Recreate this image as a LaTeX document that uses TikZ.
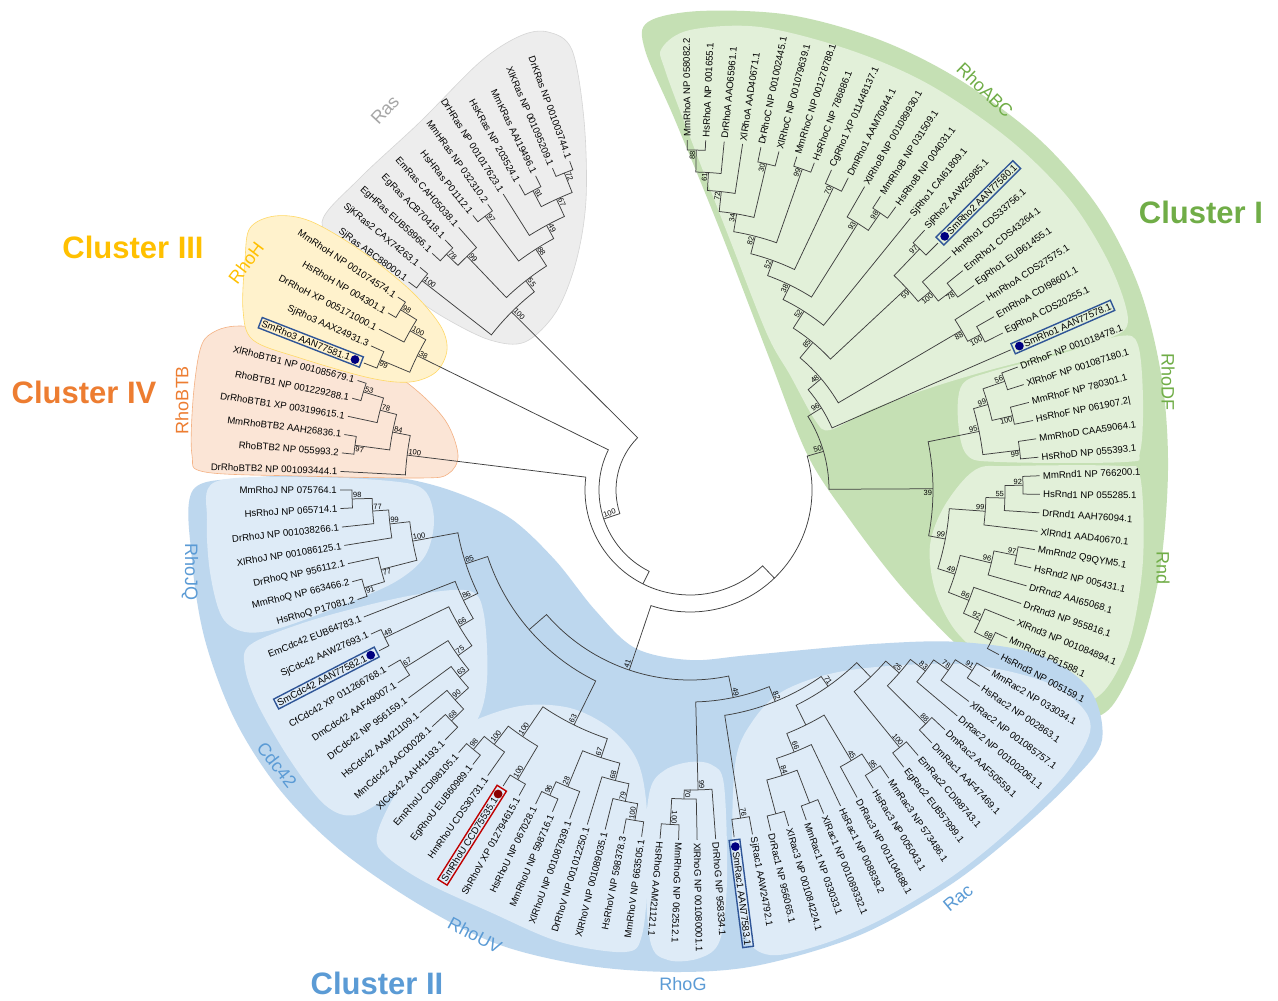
\documentclass[tikz,border=0pt]{standalone}
\usepackage{fontspec}
\setmainfont{Liberation Sans}
\usetikzlibrary{calc}
\definecolor{brc}{HTML}{3F3F3F}
\definecolor{gOut}{HTML}{C5E0B4}
\definecolor{gIn}{HTML}{E2F0D9}
\definecolor{gTxt}{HTML}{70AD47}
\definecolor{bOut}{HTML}{BDD7EE}
\definecolor{bIn}{HTML}{DEEBF7}
\definecolor{bTxt}{HTML}{5B9BD5}
\definecolor{yFill}{HTML}{FFF2CC}
\definecolor{yLine}{HTML}{FFD966}
\definecolor{yTxt}{HTML}{FFC000}
\definecolor{oFill}{HTML}{FBE5D6}
\definecolor{oLine}{HTML}{F4B183}
\definecolor{oTxt}{HTML}{ED7D31}
\definecolor{grFill}{HTML}{EDEDED}
\definecolor{grLine}{HTML}{D5D5D5}
\definecolor{grTxt}{HTML}{A6A6A6}
\definecolor{boxBlue}{HTML}{2F5597}
\definecolor{dotBlue}{HTML}{000080}
\definecolor{boxRed}{HTML}{C00000}
\definecolor{dotRed}{HTML}{8B0000}

\newcommand\Rtip{350}
\newcommand\Rlab{352}

% leaf: [style] name index text
\newcommand\TLeaf[4][]{%
  \pgfmathsetmacro\tlA{110.1+3.039*#3}%
  \expandafter\xdef\csname ang@#2\endcsname{\tlA}%
  \coordinate (#2) at ($(C)+(\tlA:\Rtip)$);
  \ifdim\tlA pt<263pt
    \pgfmathsetmacro\tlR{\tlA-180}%
    \node[lbl,rotate=\tlR,anchor=east,#1] (#2-t) at ($(C)+(\tlA:\Rlab)$) {#4};
  \else
    \node[lbl,rotate=\tlA,anchor=west,#1] (#2-t) at ($(C)+(\tlA:\Rlab)$) {#4};
  \fi
}
\newcommand\TDot[2]{%
  \fill[#2] ($(C)+(\csname ang@#1\endcsname:\Rlab+7.5)$) circle (4.4);
}
\newcommand\TBoot[3]{%
  \edef\tbM{\csname ang@#1\endcsname}%
  \ifdim\tbM pt<263pt
    \pgfmathsetmacro\tbR{\tbM-180}%
    \if#3a\def\tbAnc{south west}\else\def\tbAnc{north west}\fi
  \else
    \let\tbR\tbM
    \if#3a\def\tbAnc{south east}\else\def\tbAnc{north east}\fi
  \fi
  \node[bs,rotate=\tbR,anchor=\tbAnc] (#1-b) at (#1) {#2};
}
% internal node: name radius child1 child2 label side
\newcommand\TNode[6]{%
  \edef\tnA{\csname ang@#3\endcsname}%
  \edef\tnB{\csname ang@#4\endcsname}%
  \pgfmathsetmacro\tnM{(\tnA+\tnB)/2}%
  \expandafter\xdef\csname ang@#1\endcsname{\tnM}%
  \coordinate (#1) at ($(C)+(\tnM:#2)$);
  \draw[br] (#3) -- ($(C)+(\tnA:#2)$) arc[start angle=\tnA, end angle=\tnB, radius=#2] -- (#4);
  \TBoot{#1}{#5}{#6}%
}

\begin{document}
\begin{tikzpicture}[x=1pt,y=1pt,
  lbl/.style={font=\fontsize{9.6}{11}\selectfont, inner sep=1pt, text=black},
  bs/.style={font=\fontsize{7.5}{8}\selectfont, inner sep=0.8pt, text=black},
  br/.style={draw=brc, line width=0.75pt},
  bbox/.style={draw=boxBlue, line width=1.4pt, inner sep=2pt},
  rbox/.style={draw=boxRed, line width=1.4pt, inner sep=2pt},
  clade/.style={font=\fontsize{18}{18}\selectfont, inner sep=0pt},
  clus/.style={font=\fontsize{31}{31}\selectfont\bfseries, inner sep=0pt}]
\useasboundingbox (0,0) rectangle (1278,-1001);
\fill[white] (0,0) rectangle (1278,-1001);
\coordinate (C) at (690,-490);

% ---------------- regions ----------------
\fill[gOut] plot[smooth cycle,tension=0.55] coordinates {(648,-22) (700,-11) (790,-15) (880,-40) (960,-80) (1040,-140) (1100,-210) (1140,-290) (1162,-380) (1168,-470) (1160,-570) (1140,-650) (1112,-706) (1085,-718) (1050,-705) (990,-668) (955,-643) (900,-585) (850,-520) (808,-456) (770,-360) (720,-230) (675,-120) (645,-50)};
\fill[gIn] plot[smooth cycle,tension=0.55] coordinates {(662,-48) (690,-30) (760,-27) (850,-50) (930,-85) (1010,-140) (1070,-200) (1110,-265) (1128,-320) (1110,-338) (1060,-352) (990,-370) (930,-388) (870,-410) (830,-430) (815,-420) (790,-375) (767,-334) (730,-240) (695,-150) (665,-70)};
\fill[gIn] plot[smooth cycle,tension=0.55] coordinates {(962,-385) (990,-372) (1060,-354) (1120,-336) (1138,-345) (1143,-400) (1140,-452) (1125,-462) (1000,-462) (967,-455) (958,-420)};
\fill[gIn] plot[smooth cycle,tension=0.55] coordinates {(975,-470) (1010,-466) (1120,-466) (1140,-476) (1143,-560) (1130,-640) (1105,-690) (1075,-705) (1040,-695) (990,-662) (955,-630) (935,-590) (930,-545) (945,-505)};

\fill[bOut] plot[smooth cycle,tension=0.55] coordinates {(193,-490) (250,-478) (330,-474) (400,-478) (455,-492) (510,-518) (555,-560) (595,-610) (635,-648) (690,-660) (750,-655) (873,-644) (960,-642) (1040,-655) (1090,-690) (1102,-740) (1075,-778) (1020,-830) (950,-885) (860,-935) (760,-965) (680,-972) (590,-966) (500,-945) (420,-905) (340,-850) (280,-790) (235,-720) (205,-640) (192,-560)};
\fill[bIn] plot[smooth cycle,tension=0.55] coordinates {(215,-482) (300,-477) (390,-481) (424,-490) (434,-520) (425,-556) (395,-582) (340,-606) (280,-628) (245,-632) (222,-617) (210,-572) (207,-520)};
\fill[bIn] plot[smooth cycle,tension=0.55] coordinates {(250,-645) (300,-624) (360,-607) (420,-594) (470,-591) (484,-615) (487,-680) (476,-722) (440,-758) (395,-792) (355,-815) (325,-805) (290,-760) (258,-705) (245,-668)};
\fill[bIn] plot[smooth cycle,tension=0.55] coordinates {(377,-835) (395,-795) (425,-755) (465,-725) (520,-706) (570,-708) (610,-728) (636,-758) (646,-800) (648,-870) (642,-935) (625,-952) (560,-942) (490,-912) (425,-882) (385,-855)};
\fill[bIn] plot[smooth cycle,tension=0.55] coordinates {(650,-790) (665,-770) (690,-762) (712,-765) (724,-785) (727,-880) (720,-940) (700,-958) (668,-960) (650,-940) (645,-850)};
\fill[bIn] plot[smooth cycle,tension=0.55] coordinates {(735,-765) (752,-722) (785,-690) (850,-670) (960,-664) (1040,-680) (1080,-705) (1090,-732) (1065,-775) (1010,-830) (950,-878) (880,-920) (820,-945) (770,-955) (745,-935) (733,-870)};

\filldraw[fill=grFill,draw=grLine,line width=0.6pt] plot[smooth cycle,tension=0.55] coordinates {(322,-222) (360,-178) (420,-122) (480,-62) (520,-36) (548,-32) (572,-50) (584,-120) (586,-200) (576,-262) (556,-312) (525,-342) (490,-340) (445,-318) (400,-288) (350,-252)};
\filldraw[fill=oFill,draw=oLine,line width=0.6pt] plot[smooth cycle,tension=0.55] coordinates {(212,-333) (240,-326) (300,-334) (360,-353) (410,-385) (445,-420) (458,-455) (448,-474) (420,-478) (300,-476) (205,-472) (192,-455) (193,-400) (200,-350)};
\filldraw[fill=yFill,draw=yLine,line width=0.6pt] plot[smooth cycle,tension=0.55] coordinates {(250,-228) (275,-216) (310,-221) (360,-250) (410,-290) (440,-325) (447,-350) (436,-372) (410,-382) (370,-378) (300,-358) (253,-340) (243,-310) (245,-260)};

% ---------------- leaves ----------------
\TLeaf{DrKRas}{0}{DrKRas NP 001003744.1}
\TLeaf{XlKRas}{1}{XlKRas NP 001095209.1}
\TLeaf{MmKRas}{2}{MmKRas AAI19496.1}
\TLeaf{HsKRas}{3}{HsKRas NP 203524.1}
\TLeaf{DrHRas}{4}{DrHRas NP 001017623.1}
\TLeaf{MmHRas}{5}{MmHRas NP 032310.2}
\TLeaf{HsHRas}{6}{HsHRas P01112.1}
\TLeaf{EmRas}{7}{EmRas CAH05038.1}
\TLeaf{EgRas}{8}{EgRas ACB70418.1}
\TLeaf{EgHRas}{9}{EgHRas EUB58966.1}
\TLeaf{SjKRasB}{10}{SjKRas2 CAX74263.1}
\TLeaf{SjRas}{11}{SjRas ABC88000.1}
\TLeaf{MmRhoH}{12}{MmRhoH NP 001074574.1}
\TLeaf{HsRhoH}{13}{HsRhoH NP 004301.1}
\TLeaf{DrRhoH}{14}{DrRhoH XP 005171000.1}
\TLeaf{SjRhoC}{15}{SjRho3 AAX24931.3}
\TLeaf[bbox]{SmRhoC}{16}{SmRho3 AAN77581.1\hspace*{10pt}}
\TLeaf[rotate=4]{XlRhoBTBa}{17}{XlRhoBTB1 NP 001085679.1}
\TLeaf[rotate=3.5]{RhoBTBa}{18}{RhoBTB1 NP 001229288.1}
\TLeaf[rotate=3]{DrRhoBTBa}{19}{DrRhoBTB1 XP 003199615.1}
\TLeaf[rotate=2]{MmRhoBTBb}{20}{MmRhoBTB2 AAH26836.1}
\TLeaf[rotate=1.5]{RhoBTBb}{21}{RhoBTB2 NP 055993.2}
\TLeaf[rotate=1]{DrRhoBTBb}{22}{DrRhoBTB2 NP 001093444.1}
\TLeaf{MmRhoJ}{23}{MmRhoJ NP 075764.1}
\TLeaf{HsRhoJ}{24}{HsRhoJ NP 065714.1}
\TLeaf{DrRhoJ}{25}{DrRhoJ NP 001038266.1}
\TLeaf{XlRhoJ}{26}{XlRhoJ NP 001086125.1}
\TLeaf{DrRhoQ}{27}{DrRhoQ NP 956112.1}
\TLeaf[rotate=-1.5]{MmRhoQ}{28}{MmRhoQ NP 663466.2}
\TLeaf[rotate=-2.5]{HsRhoQ}{29}{HsRhoQ P17081.2}
\TLeaf{EmCdc}{30}{EmCdc42 EUB64783.1}
\TLeaf{SjCdc}{31}{SjCdc42 AAW27693.1}
\TLeaf[bbox]{SmCdc}{32}{SmCdc42 AAN77582.1\hspace*{10pt}}
\TLeaf{CfCdc}{33}{CfCdc42 XP 011266768.1}
\TLeaf{DmCdc}{34}{DmCdc42 AAF49007.1}
\TLeaf{DrCdc}{35}{DrCdc42 NP 956159.1}
\TLeaf{HsCdc}{36}{HsCdc42 AAM21109.1}
\TLeaf{MmCdc}{37}{MmCdc42 AAC00028.1}
\TLeaf{XlCdc}{38}{XlCdc42 AAH41193.1}
\TLeaf{EmRhoU}{39}{EmRhoU CDI98105.1}
\TLeaf{EgRhoU}{40}{EgRhoU EUB60989.1}
\TLeaf{HmRhoU}{41}{HmRhoU CDS30731.1}
\TLeaf[rbox]{SmRhoU}{42}{SmRhoU CCD75535.1\hspace*{10pt}}
\TLeaf{ShRhoV}{43}{ShRhoV XP 012794615.1}
\TLeaf{HsRhoU}{44}{HsRhoU NP 067028.1}
\TLeaf{MmRhoU}{45}{MmRhoU NP 598716.1}
\TLeaf{XlRhoU}{46}{XlRhoU NP 001087939.1}
\TLeaf{DrRhoV}{47}{DrRhoV NP 001012250.1}
\TLeaf{XlRhoV}{48}{XlRhoV NP 001089035.1}
\TLeaf{HsRhoV}{49}{HsRhoV NP 598378.3}
\TLeaf{MmRhoV}{50}{MmRhoV NP 663505.1}
\TLeaf{HsRhoG}{51}{HsRhoG AAM21121.1}
\TLeaf{MmRhoG}{52}{MmRhoG NP 062512.1}
\TLeaf{XlRhoG}{53}{XlRhoG NP 001080001.1}
\TLeaf{DrRhoG}{54}{DrRhoG NP 958334.1}
\TLeaf[bbox]{SmRacA}{55}{\hspace*{10pt}SmRac1 AAN77583.1}
\TLeaf{SjRacA}{56}{SjRac1 AAW24792.1}
\TLeaf{DrRacA}{57}{DrRac1 NP 956065.1}
\TLeaf{XlRacC}{58}{XlRac3 NP 001084224.1}
\TLeaf{MmRacA}{59}{MmRac1 NP 033033.1}
\TLeaf{XlRacA}{60}{XlRac1 NP 001089332.1}
\TLeaf{HsRacA}{61}{HsRac1 NP 008839.2}
\TLeaf{DrRacC}{62}{DrRac3 NP 001104688.1}
\TLeaf{HsRacC}{63}{HsRac3 NP 005043.1}
\TLeaf{MmRacC}{64}{MmRac3 NP 573486.1}
\TLeaf{EgRacB}{65}{EgRac2 EUB57999.1}
\TLeaf{EmRacB}{66}{EmRac2 CDI98743.1}
\TLeaf{DmRacA}{67}{DmRac1 AAF47469.1}
\TLeaf{DmRacB}{68}{DmRac2 AAF50559.1}
\TLeaf{DrRacB}{69}{DrRac2 NP 001002061.1}
\TLeaf{XlRacB}{70}{XlRac2 NP 001085757.1}
\TLeaf{HsRacB}{71}{HsRac2 NP 002863.1}
\TLeaf{MmRacB}{72}{MmRac2 NP 033034.1}
\TLeaf{HsRndC}{73}{HsRnd3 NP 005159.1}
\TLeaf{MmRndC}{74}{MmRnd3 P61588.1}
\TLeaf{XlRndC}{75}{XlRnd3 NP 001084894.1}
\TLeaf{DrRndC}{76}{DrRnd3 NP 955816.1}
\TLeaf{DrRndB}{77}{DrRnd2 AAI65068.1}
\TLeaf{HsRndB}{78}{HsRnd2 NP 005431.1}
\TLeaf{MmRndB}{79}{MmRnd2 Q9QYM5.1}
\TLeaf{XlRndA}{80}{XlRnd1 AAD40670.1}
\TLeaf{DrRndA}{81}{DrRnd1 AAH76094.1}
\TLeaf{HsRndA}{82}{HsRnd1 NP 055285.1}
\TLeaf{MmRndA}{83}{MmRnd1 NP 766200.1}
\TLeaf{HsRhoD}{84}{HsRhoD NP 055393.1}
\TLeaf{MmRhoD}{85}{MmRhoD CAA59064.1}
\TLeaf{HsRhoF}{86}{HsRhoF NP 061907.2|}
\TLeaf{MmRhoF}{87}{MmRhoF NP 780301.1}
\TLeaf{XlRhoF}{88}{XlRhoF NP 001087180.1}
\TLeaf{DrRhoF}{89}{DrRhoF NP 001018478.1}
\TLeaf[bbox]{SmRhoA}{90}{\hspace*{10pt}SmRho1 AAN77578.1}
\TLeaf{EgRhoA}{91}{EgRhoA CDS20255.1}
\TLeaf{EmRhoA}{92}{EmRhoA CDI98601.1}
\TLeaf{HmRhoA}{93}{HmRhoA CDS27575.1}
\TLeaf{EgRhoI}{94}{EgRho1 EUB61455.1}
\TLeaf{EmRhoI}{95}{EmRho1 CDS43264.1}
\TLeaf{HmRhoI}{96}{HmRho1 CDS33756.1}
\TLeaf[bbox]{SmRhoB}{97}{\hspace*{10pt}SmRho2 AAN77580.1}
\TLeaf{SjRhoB}{98}{SjRho2 AAW25985.1}
\TLeaf{SjRhoA}{99}{SjRho1 CAI61809.1}
\TLeaf{HsRhoB}{100}{HsRhoB NP 004031.1}
\TLeaf{MmRhoB}{101}{MmRhoB NP 031509.1}
\TLeaf{XlRhoB}{102}{XlRhoB NP 001089930.1}
\TLeaf{DmRhoI}{103}{DmRho1 AAM70944.1}
\TLeaf{CgRhoI}{104}{CgRho1 XP 011448137.1}
\TLeaf{HsRhoC}{105}{HsRhoC NP 786886.1}
\TLeaf{MmRhoC}{106}{MmRhoC NP 001278788.1}
\TLeaf{XlRhoC}{107}{XlRhoC NP 001079639.1}
\TLeaf{DrRhoC}{108}{DrRhoC NP 001002445.1}
\TLeaf{XlRhoAA}{109}{XlRhoA AAD40671.1}
\TLeaf{DrRhoAA}{110}{DrRhoA AAO65961.1}
\TLeaf{HsRhoAA}{111}{HsRhoA NP 001655.1}
\TLeaf{MmRhoAA}{112}{MmRhoA NP 058082.2}

\TDot{SmRhoC}{dotBlue}
\TDot{SmCdc}{dotBlue}
\TDot{SmRhoU}{dotRed}
\TDot{SmRacA}{dotBlue}
\TDot{SmRhoA}{dotBlue}
\TDot{SmRhoB}{dotBlue}

% ---------------- internal nodes ----------------
% Ras
\TNode{r72}{341}{DrKRas}{XlKRas}{72}{a}
\TNode{r91}{338}{MmKRas}{HsKRas}{91}{a}
\TNode{r67}{320}{r72}{r91}{67}{a}
\TNode{r49}{301}{r67}{DrHRas}{49}{a}
\TNode{r97}{342}{MmHRas}{HsHRas}{97}{a}
\TNode{r88}{286}{r49}{r97}{88}{a}
\TNode{r78}{339}{EgRas}{EgHRas}{78}{a}
\TNode{r99}{323}{EmRas}{r78}{99}{a}
\TNode{r55}{266}{r88}{r99}{55}{a}
\TNode{r100a}{340}{SjKRasB}{SjRas}{100}{a}
\TNode{r100b}{252}{r55}{r100a}{100}{a}
% RhoH
\TNode{h98}{341}{MmRhoH}{HsRhoH}{98}{a}
\TNode{h100}{322}{h98}{DrRhoH}{100}{a}
\TNode{h99}{336}{SjRhoC}{SmRhoC}{99}{b}
\TNode{h38}{304}{h100}{h99}{38}{a}
% RhoBTB
\TNode{t53}{341}{XlRhoBTBa}{RhoBTBa}{53}{a}
\TNode{t78}{320}{t53}{DrRhoBTBa}{78}{a}
\TNode{t97}{338}{MmRhoBTBb}{RhoBTBb}{97}{b}
\TNode{t84}{303}{t78}{t97}{84}{a}
\TNode{t100}{285}{t84}{DrRhoBTBb}{100}{a}
% RhoJQ
\TNode{j98}{338}{MmRhoJ}{HsRhoJ}{98}{a}
\TNode{j77}{318}{j98}{DrRhoJ}{77}{a}
\TNode{j99}{302}{j77}{XlRhoJ}{99}{a}
\TNode{j91}{340}{MmRhoQ}{HsRhoQ}{91}{b}
\TNode{j77b}{319}{DrRhoQ}{j91}{77}{b}
\TNode{j100}{282}{j99}{j77b}{100}{a}
% Cdc42
\TNode{c48}{339}{SjCdc}{SmCdc}{48}{a}
\TNode{c67}{336}{CfCdc}{DmCdc}{67}{a}
\TNode{c68}{332}{MmCdc}{XlCdc}{68}{a}
\TNode{c90}{315}{HsCdc}{c68}{90}{a}
\TNode{c63}{297}{DrCdc}{c90}{63}{a}
\TNode{c75}{285}{c67}{c63}{75}{a}
\TNode{c66}{268}{c48}{c75}{66}{a}
\TNode{c86}{252}{EmCdc}{c66}{86}{a}
\TNode{c85}{236}{j100}{c86}{85}{a}
% RhoUV
\TNode{u98}{338}{EmRhoU}{EgRhoU}{98}{a}
\TNode{u100a}{321}{u98}{HmRhoU}{100}{a}
\TNode{u100c}{337}{SmRhoU}{ShRhoV}{100}{a}
\TNode{u100b}{298}{u100a}{u100c}{100}{a}
\TNode{u96}{336}{HsRhoU}{MmRhoU}{96}{a}
\TNode{u28}{321}{u96}{XlRhoU}{28}{a}
\TNode{u100d}{335}{HsRhoV}{MmRhoV}{100}{a}
\TNode{u79}{318}{XlRhoV}{u100d}{79}{a}
\TNode{u68}{300}{DrRhoV}{u79}{68}{a}
\TNode{u67}{282}{u28}{u68}{67}{a}
\TNode{u63}{262}{u100b}{u67}{63}{a}
% RhoG
\TNode{g100}{335}{HsRhoG}{MmRhoG}{100}{a}
\TNode{g70}{309}{g100}{XlRhoG}{70}{a}
\TNode{g99}{300}{g70}{DrRhoG}{99}{a}
% Rac
\TNode{x76}{332}{SmRacA}{SjRacA}{76}{a}
\TNode{xA}{335}{DrRacA}{XlRacC}{}{a}
\TNode{xB}{335}{MmRacA}{XlRacA}{}{a}
\TNode{x84}{300}{xA}{xB}{84}{a}
\TNode{x66}{282}{x84}{HsRacA}{66}{a}
\TNode{x95}{335}{HsRacC}{MmRacC}{95}{a}
\TNode{x45}{315}{DrRacC}{x95}{45}{a}
\TNode{xL}{262}{x66}{x45}{}{a}
\TNode{x100}{332}{EgRacB}{EmRacB}{100}{a}
\TNode{x88}{332}{DmRacA}{DmRacB}{88}{a}
\TNode{x91}{335}{HsRacB}{MmRacB}{91}{a}
\TNode{x78}{315}{XlRacB}{x91}{78}{a}
\TNode{x83}{297}{DrRacB}{x78}{83}{a}
\TNode{x25}{278}{x88}{x83}{25}{a}
\TNode{xR}{260}{x100}{x25}{}{a}
\TNode{x71}{240}{xL}{xR}{71}{a}
\TNode{x82}{228}{x76}{x71}{82}{a}
% Rnd
\TNode{n92a}{333}{HsRndA}{MmRndA}{92}{a}
\TNode{n55}{315}{DrRndA}{n92a}{55}{a}
\TNode{n99a}{296}{XlRndA}{n55}{99}{a}
\TNode{n97}{333}{HsRndB}{MmRndB}{97}{a}
\TNode{n96}{310}{DrRndB}{n97}{96}{a}
\TNode{n68}{337}{HsRndC}{MmRndC}{68}{a}
\TNode{n92b}{318}{n68}{XlRndC}{92}{a}
\TNode{n86}{300}{n92b}{DrRndC}{86}{a}
\TNode{n49}{278}{n86}{n96}{49}{a}
\TNode{n99b}{260}{n49}{n99a}{99}{a}
% RhoDF
\TNode{d99b}{332}{HsRhoD}{MmRhoD}{99}{b}
\TNode{d100}{331}{HsRhoF}{MmRhoF}{100}{b}
\TNode{d56}{333}{XlRhoF}{DrRhoF}{56}{a}
\TNode{d99}{310}{d100}{d56}{99}{a}
\TNode{d95}{295}{d99b}{d99}{95}{a}
\TNode{n39}{243}{n99b}{d95}{39}{b}
% RhoABC
\TNode{a88}{340}{HsRhoAA}{MmRhoAA}{88}{a}
\TNode{a61}{318}{DrRhoAA}{a88}{61}{a}
\TNode{a72}{300}{XlRhoAA}{a61}{72}{a}
\TNode{a30}{335}{XlRhoC}{DrRhoC}{30}{a}
\TNode{a34}{280}{a30}{a72}{34}{a}
\TNode{a99}{340}{HsRhoC}{MmRhoC}{99}{a}
\TNode{a82}{262}{a99}{a34}{82}{a}
\TNode{a70}{335}{DmRhoI}{CgRhoI}{70}{a}
\TNode{a52}{244}{a70}{a82}{52}{a}
\TNode{a98}{336}{HsRhoB}{MmRhoB}{98}{a}
\TNode{a93}{315}{a98}{XlRhoB}{93}{a}
\TNode{a38}{228}{a93}{a52}{38}{a}
\TNode{a52b}{212}{SjRhoA}{a38}{52}{a}
\TNode{a97}{333}{SmRhoB}{SjRhoB}{97}{a}
\TNode{a78}{330}{EgRhoI}{EmRhoI}{78}{b}
\TNode{a100}{312}{a78}{HmRhoI}{100}{b}
\TNode{a59}{296}{a100}{a97}{59}{b}
\TNode{a85}{192}{a59}{a52b}{85}{a}
\TNode{a100b}{330}{EgRhoA}{EmRhoA}{100}{b}
\TNode{a88b}{315}{a100b}{HmRhoA}{88}{b}
\TNode{a48}{172}{a88b}{a85}{48}{a}
\TNode{a96}{155}{SmRhoA}{a48}{96}{a}
\TNode{a50}{139}{a96}{n39}{50}{a}
% backbone
\TNode{P}{213}{c85}{u63}{}{a}
\TNode{x49}{212}{g99}{x82}{49}{a}
\TNode{n41}{190}{P}{x49}{41}{a}
\TNode{Y}{122}{a50}{n41}{}{a}
\TNode{Z}{105}{t100}{Y}{}{a}
\TNode{W}{91}{h38}{Z}{100}{a}
\TNode{R}{74}{r100b}{W}{}{a}

% ---------------- clade labels ----------------
\node[clade,text=grTxt,rotate=47] (lRas) at (385,-110) {Ras};
\node[clade,text=yTxt,rotate=53] (lRhoH) at (246,-263) {RhoH};
\node[clade,text=oTxt,rotate=90] (lRhoBTB) at (182,-400) {RhoBTB};
\node[clade,text=bTxt,rotate=-90] (lRhoJQ) at (190,-572) {RhoJQ};
\node[clade,text=bTxt,rotate=-52] (lCdc) at (277,-765) {Cdc42};
\node[clade,text=bTxt,rotate=-28] (lRhoUV) at (475,-935) {RhoUV};
\node[clade,text=bTxt] (lRhoG) at (683,-984) {RhoG};
\node[clade,text=bTxt,rotate=40] (lRac) at (958,-898) {Rac};
\node[clade,text=gTxt,rotate=-44] (lRhoABC) at (985,-90) {RhoABC};
\node[clade,text=gTxt,rotate=-90] (lRhoDF) at (1168,-382) {RhoDF};
\node[clade,text=gTxt,rotate=-90] (lRnd) at (1163,-568) {Rnd};

\node[clus,text=gTxt] (cI) at (1201,-212) {Cluster I};
\node[clus,text=bTxt] (cII) at (377,-983) {Cluster II};
\node[clus,text=yTxt] (cIII) at (133,-247) {Cluster III};
\node[clus,text=oTxt] (cIV) at (84,-392) {Cluster IV};
\end{tikzpicture}
\end{document}
